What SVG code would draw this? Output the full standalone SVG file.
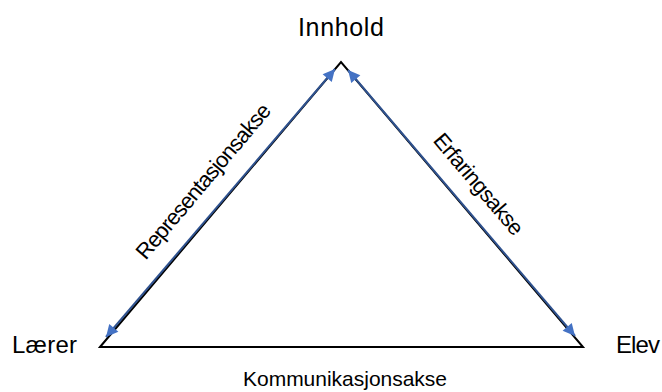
<svg xmlns="http://www.w3.org/2000/svg" width="662" height="392" viewBox="0 0 662 392">
<style>
.lbl{font-family:"Liberation Sans",Arial,sans-serif;fill:#000}
.edge{stroke:#000;stroke-width:2;fill:none}
.axis{stroke:#2F528F;stroke-width:2;fill:none}
</style>
<defs>
<marker id="ah" viewBox="0 0 10 10" refX="10" refY="5" markerWidth="7" markerHeight="6" orient="auto-start-reverse" markerUnits="strokeWidth">
<path d="M0,0 L10,5 L0,10 z" fill="#4472C4"/>
</marker>
</defs>
<rect width="662" height="392" fill="#fff"/>
<g id="connectors">
<polygon class="edge" points="100,347 341,62 583,347" stroke-linejoin="miter"/>
<line class="axis" x1="106" y1="337" x2="335" y2="69" marker-start="url(#ah)" marker-end="url(#ah)"/>
<line class="axis" x1="348" y1="70" x2="575" y2="336" marker-start="url(#ah)" marker-end="url(#ah)"/>
</g>
<g id="innhold"><text class="lbl" x="341" y="36" font-size="25" text-anchor="middle" textLength="86">Innhold</text></g>
<g id="laerer"><text class="lbl" x="12" y="353" font-size="24" textLength="65">Lærer</text></g>
<g id="elev"><text class="lbl" x="616" y="353" font-size="24" textLength="44">Elev</text></g>
<g id="kommunikasjonsakse"><text class="lbl" x="345" y="386" font-size="21" text-anchor="middle" textLength="204">Kommunikasjonsakse</text></g>
<g id="representasjonsakse"><text class="lbl" font-size="22" text-anchor="middle" transform="translate(209,186) rotate(-49.8)" textLength="196">Representasjonsakse</text></g>
<g id="erfaringsakse"><text class="lbl" font-size="22" text-anchor="middle" transform="translate(473,189) rotate(49.7)" textLength="126">Erfaringsakse</text></g>
</svg>
